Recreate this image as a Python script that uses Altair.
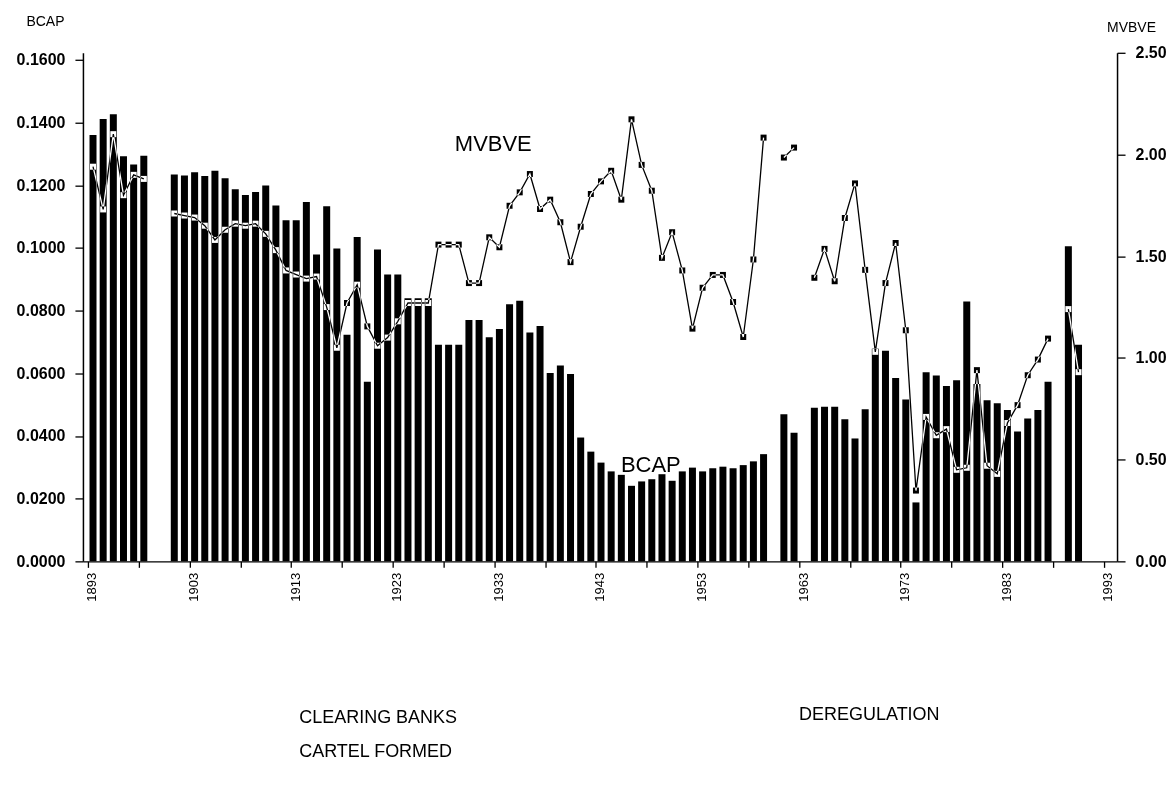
import altair as alt
import pandas as pd

years = list(range(1893, 1991))

bcap = [
    0.1360, 0.1411, 0.1426, 0.1292, 0.1266, 0.1294, None, None,
    0.1234, 0.1231, 0.1241, 0.1229, 0.1246, 0.1222, 0.1187, 0.1169, 0.1178, 0.1199,
    0.1135, 0.1088, 0.1088, 0.1146, 0.0979, 0.1133, 0.0998, 0.0723, 0.1035, 0.0573,
    0.0995, 0.0915, 0.0915, 0.0839, 0.0839, 0.0839, 0.0691, 0.0691, 0.0691, 0.0770,
    0.0770, 0.0715, 0.0741, 0.0820, 0.0831, 0.0730, 0.0751, 0.0601, 0.0625, 0.0598,
    0.0395, 0.0350, 0.0315, 0.0287, 0.0276, 0.0241, 0.0255, 0.0262, 0.0278, 0.0257,
    0.0287, 0.0299, 0.0287, 0.0297, 0.0302, 0.0297, 0.0307, 0.0319, 0.0342, None,
    0.0469, 0.0410, None, 0.0490, 0.0493, 0.0493, 0.0453, 0.0392, 0.0485, 0.0678,
    0.0672, 0.0585, 0.0516, 0.0188, 0.0603, 0.0593, 0.0559, 0.0578, 0.0829, 0.0566,
    0.0514, 0.0504, 0.0483, 0.0414, 0.0456, 0.0483, 0.0573, None, 0.1005, 0.0691,
]

mvbve = [
    1.94, 1.73, 2.10, 1.80, 1.90, 1.88, None, None,
    1.71, 1.70, 1.69, 1.65, 1.58, 1.63, 1.66, 1.65, 1.66, 1.61,
    1.53, 1.43, 1.41, 1.39, 1.40, 1.25, 1.05, 1.27, 1.36, 1.155,
    1.06, 1.10, 1.18, 1.27, 1.27, 1.27, 1.557, 1.557, 1.557, 1.368,
    1.368, 1.593, 1.544, 1.748, 1.814, 1.904, 1.732, 1.778, 1.667, 1.471,
    1.645, 1.806, 1.868, 1.92, 1.778, 2.173, 1.949, 1.822, 1.492, 1.618,
    1.430, 1.144, 1.345, 1.408, 1.408, 1.275, 1.103, 1.484, 2.083, None,
    1.985, 2.034, None, 1.394, 1.536, 1.377, 1.688, 1.858, 1.433, 1.03,
    1.368, 1.565, 1.136, 0.348, 0.71, 0.62, 0.65, 0.45, 0.46, 0.94,
    0.47, 0.43, 0.68, 0.768, 0.915, 0.992, 1.095, None, 1.24, 0.93,
]

x_ticks = list(range(1893, 1994, 5))
left_ticks = [0.0, 0.02, 0.04, 0.06, 0.08, 0.10, 0.12, 0.14, 0.16]
right_ticks = [0.0, 0.5, 1.0, 1.5, 2.0, 2.5]

# line segments (runs of consecutive years with data)
seg, s, prev = [], 0, False
for v in mvbve:
    if v is None:
        seg.append(None)
        prev = False
    else:
        if not prev:
            s += 1
        seg.append(s)
        prev = True

df = pd.DataFrame({"year": years, "BCAP": bcap, "MVBVE": mvbve, "seg": seg})
df_bars = df.dropna(subset=["BCAP"])[["year", "BCAP"]]
df_line = df.dropna(subset=["MVBVE"])[["year", "MVBVE", "seg"]]

W, H = 1035, 509
FONT = "Liberation Sans"

xscale = alt.Scale(domain=[1893, 1993.8], nice=False, zero=False)
lscale = alt.Scale(domain=[0, 0.16 * 509 / 502], nice=False)
rscale = alt.Scale(domain=[0, 2.5], nice=False)

xaxis = alt.Axis(
    values=x_ticks, format="d",
    labelExpr="((datum.value - 1893) % 10 == 0) ? datum.label : ''",
    labelAngle=270, labelFontSize=13, labelFont=FONT, labelColor="black",
    labelOffset=4, labelPadding=5, tickSize=6, tickColor="black", tickWidth=1.3,
    domainColor="black", domainWidth=1.3, grid=False, title=None,
    labelOverlap=False,
)
laxis = alt.Axis(
    values=left_ticks, format=".4f", orient="left",
    labelFontSize=16, labelFont=FONT, labelFontWeight="bold", labelColor="black",
    labelPadding=10, tickSize=8, tickColor="black", tickWidth=1.3,
    domainColor="black", domainWidth=1.5, grid=False,
    title="BCAP", titleAngle=0, titleX=-38, titleY=-31, titleAlign="center",
    titleBaseline="middle", titleFont=FONT, titleFontSize=14, titleFontWeight="normal",
    titleColor="black",
)
raxis = alt.Axis(
    values=right_ticks, format=".2f", orient="right",
    labelFontSize=16, labelFont=FONT, labelFontWeight="bold", labelColor="black",
    labelPadding=10, tickSize=8, tickColor="black", tickWidth=1.3,
    domainColor="black", domainWidth=1.5, grid=False,
    title="MVBVE", titleAngle=0, titleX=14, titleY=-25, titleAlign="center",
    titleBaseline="middle", titleFont=FONT, titleFontSize=14, titleFontWeight="normal",
    titleColor="black",
)

X = lambda f: alt.X(f, scale=xscale, axis=xaxis)

bars = alt.Chart(df_bars).transform_calculate(xc="datum.year + 0.5").mark_bar(
    color="black", size=7
).encode(
    x=X("xc:Q"),
    y=alt.Y("BCAP:Q", scale=lscale, axis=laxis),
)

line = alt.Chart(df_line).transform_calculate(xc="datum.year + 0.5").mark_line(
    color="white", blend="difference", strokeWidth=1.3
).encode(
    x=X("xc:Q"),
    y=alt.Y("MVBVE:Q", scale=rscale, axis=raxis),
    detail="seg:N",
)

pts = alt.Chart(df_line).transform_calculate(xc="datum.year + 0.5").mark_point(
    shape="square", filled=True, size=36, color="white", blend="difference", opacity=1
).encode(
    x=X("xc:Q"),
    y=alt.Y("MVBVE:Q", scale=rscale, axis=None),
)

mv_lbl = alt.Chart(pd.DataFrame({"t": ["MVBVE"], "xc": [1932.9], "y": [2.05]})).mark_text(
    font=FONT, fontSize=22, color="black", align="center", baseline="middle"
).encode(
    x=X("xc:Q"),
    y=alt.Y("y:Q", scale=rscale, axis=None),
    text="t:N",
)

bc_lbl = alt.Chart(pd.DataFrame({"t": ["BCAP"], "xc": [1948.4], "y": [0.0306]})).mark_text(
    font=FONT, fontSize=22, color="black", align="center", baseline="middle"
).encode(
    x=X("xc:Q"),
    y=alt.Y("y:Q", scale=lscale, axis=None),
    text="t:N",
)

def note(text, xyear, py):
    return alt.Chart(pd.DataFrame({"t": [text], "xc": [xyear]})).mark_text(
        font=FONT, fontSize=18, color="black", align="left", baseline="middle"
    ).encode(
        x=X("xc:Q"),
        y=alt.value(py),
        text="t:N",
    )

n1 = note("CLEARING BANKS", 1913.8, 665.5)
n2 = note("CARTEL FORMED", 1913.8, 699.5)
n3 = note("DEREGULATION", 1963.0, 662.5)

chart = alt.layer(bars, line, pts, mv_lbl, bc_lbl, n1, n2, n3).resolve_scale(
    y="independent"
).properties(
    width=W, height=H,
    autosize=alt.AutoSizeParams(type="none"),
    padding={"left": 75, "top": 44.5, "right": 50, "bottom": 215},
    background="white",
).configure_view(stroke=None)

chart.save("out.html", embed_options={"renderer": "svg", "actions": False})
